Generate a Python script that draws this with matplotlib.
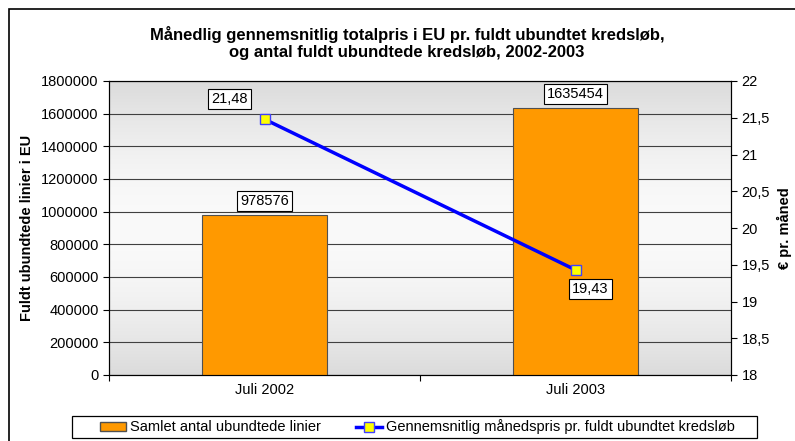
"""
Monthly average price per fully unbundled loop in the EU, with loop counts.
"""

import numpy as np
import matplotlib.pyplot as plt
from matplotlib.patches import Rectangle, Patch
from matplotlib.lines import Line2D
from matplotlib.ticker import FuncFormatter

plt.rcParams['font.family'] = ['Liberation Sans', 'DejaVu Sans']
plt.rcParams['font.size'] = 10.5

categories = ["Juli 2002", "Juli 2003"]
lines_count = [978576, 1635454]
price = [21.48, 19.43]
count_labels = ["978576", "1635454"]
price_labels = ["21,48", "19,43"]

W, H = 795, 441
fig = plt.figure(figsize=(W / 100, H / 100), dpi=100)
ax = fig.add_axes([109 / W, 1 - 375 / H, 622 / W, 294 / H])

# grey-white-grey gradient background
t = np.linspace(0, 1, 256)
shade = 0.86 + 0.12 * np.sin(np.pi * t)
grad = np.stack([shade, shade, shade], axis=1)[:, None, :]
ax.imshow(grad, extent=[0, 1, 0, 1], transform=ax.transAxes,
          aspect='auto', zorder=0, origin='lower')

x = np.arange(len(categories))
ax.bar(x, lines_count, width=0.4, color='#FF9900', edgecolor='#505050',
       linewidth=0.8, zorder=3)
ax.set_xlim(-0.5, 1.5)
ax.set_ylim(0, 1800000)
ax.set_yticks(np.arange(0, 1800001, 200000))
ax.yaxis.set_major_formatter(FuncFormatter(lambda v, p: f"{int(v)}"))
ax.grid(axis='y', color='#404040', linewidth=0.8, zorder=1)
ax.set_axisbelow(True)
ax.set_xticks([-0.5, 0.5, 1.5])
ax.set_xticklabels(["", "", ""])
ax.set_xticks(x, minor=True)
ax.set_xticklabels(categories, minor=True)
ax.tick_params(axis='x', which='major', length=4)
ax.tick_params(axis='x', which='minor', length=0, pad=6)
ax.tick_params(axis='y', length=4)
for s in ax.spines.values():
    s.set_color('black')
    s.set_linewidth(0.8)
ax.set_ylabel("Fuldt ubundtede linier i EU", fontweight='bold', labelpad=5)

box = dict(boxstyle='square,pad=0.22', facecolor='white', edgecolor='black', linewidth=0.8)
for xi, v, lab in zip(x, lines_count, count_labels):
    ax.annotate(lab, (xi, v), xytext=(0, 14), textcoords='offset pixels',
                ha='center', va='center', bbox=box, zorder=6)

ax2 = ax.twinx()
ax2.plot(x, price, color='#0000FF', linewidth=2.5, marker='s', markersize=7,
         markerfacecolor='#FFFF00', markeredgecolor='#4040FF', zorder=5)
ax2.set_ylim(18, 22)
ax2.set_yticks(np.arange(18, 22.01, 0.5))
ax2.yaxis.set_major_formatter(FuncFormatter(lambda v, p: f"{v:g}".replace('.', ',')))
ax2.tick_params(axis='y', length=4)
for s in ax2.spines.values():
    s.set_color('black')
    s.set_linewidth(0.8)
ax2.set_ylabel("€ pr. måned", fontweight='bold', labelpad=5)

offsets = [(-35, 20), (15, -19)]
for xi, v, lab, off in zip(x, price, price_labels, offsets):
    ax2.annotate(lab, (xi, v), xytext=off, textcoords='offset pixels',
                 ha='center', va='center', bbox=box, zorder=6)

fig.text(0.512, 1 - 43 / H, "Månedlig gennemsnitlig totalpris i EU pr. fuldt ubundtet kredsløb,\n"
         "og antal fuldt ubundtede kredsløb, 2002-2003",
         ha='center', va='center', fontweight='bold', fontsize=12, linespacing=1.12)

handles = [Patch(facecolor='#FF9900', edgecolor='#505050'),
           Line2D([], [], color='#0000FF', linewidth=2.5, marker='s', markersize=7,
                  markerfacecolor='#FFFF00', markeredgecolor='#4040FF')]
fig.legend(handles, ["Samlet antal ubundtede linier",
                     "Gennemsnitlig månedspris pr. fuldt ubundtet kredsløb"],
           ncol=2, loc='center left', bbox_to_anchor=(93 / W, 1 - 427 / H),
           borderpad=0, frameon=False, handlelength=1.75, handleheight=0.6,
           handletextpad=0.3, columnspacing=2.4)

# legend frame
fig.patches.append(Rectangle((72 / W, 1 - 438 / H), 685 / W, 22 / H, transform=fig.transFigure,
                             facecolor='white', edgecolor='black', linewidth=0.9, zorder=0))

# outer chart frame (only left and top visible in the reference)
fig.patches.append(Rectangle((9 / W, -0.1), 1.2, 1.1 - 9 / H, transform=fig.transFigure,
                             fill=False, edgecolor='black', linewidth=1.2))

fig.savefig("out.png")
plt.close(fig)
